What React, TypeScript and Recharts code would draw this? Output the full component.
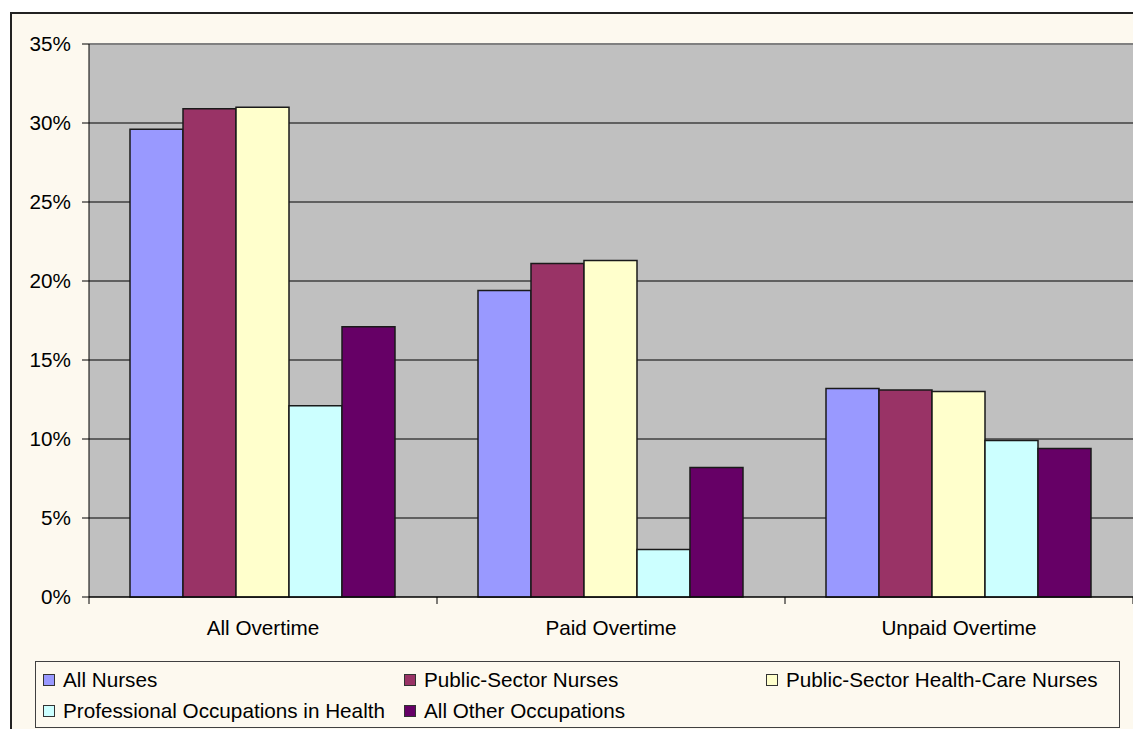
import { BarChart, Bar, XAxis, YAxis, CartesianGrid, ReferenceLine } from "recharts";

const CATEGORIES = ["All Overtime", "Paid Overtime", "Unpaid Overtime"];

// share of workers reporting overtime, %
const ALL_NURSES = [29.6, 19.4, 13.2];
const PUBLIC_SECTOR_NURSES = [30.9, 21.1, 13.1];
const PUBLIC_HEALTH_CARE_NURSES = [31.0, 21.3, 13.0];
const PROFESSIONAL_HEALTH = [12.1, 3.0, 9.9];
const ALL_OTHER = [17.1, 8.2, 9.4];

const Y_TICKS = [0, 5, 10, 15, 20, 25, 30, 35];

const SERIES = [
  { key: "allNurses", name: "All Nurses", color: "#9999FF", values: ALL_NURSES },
  { key: "publicSector", name: "Public-Sector Nurses", color: "#993366", values: PUBLIC_SECTOR_NURSES },
  { key: "publicHealth", name: "Public-Sector Health-Care Nurses", color: "#FFFFCC", values: PUBLIC_HEALTH_CARE_NURSES },
  { key: "professional", name: "Professional Occupations in Health", color: "#CCFFFF", values: PROFESSIONAL_HEALTH },
  { key: "allOther", name: "All Other Occupations", color: "#660066", values: ALL_OTHER },
];

const data = CATEGORIES.map((category, i) => {
  const row: Record<string, string | number> = { category };
  SERIES.forEach((s) => {
    row[s.key] = s.values[i];
  });
  return row;
});

const FONT = "'Liberation Sans', Arial, sans-serif";
const FONT_SIZE = 20.7;
const LABEL_GAP = 23;
const EDGE_TICK = 7;

// category label plus the small tick marks on the band edges
function CategoryTick(props: any) {
  const { x, y, payload, index, visibleTicksCount } = props;
  const half = payload.offset ?? 0;
  const axisY = y - LABEL_GAP;
  const isLast = index === (visibleTicksCount ?? CATEGORIES.length) - 1;
  return (
    <g>
      <line x1={x - half} x2={x - half} y1={axisY} y2={axisY + EDGE_TICK} stroke="#000" />
      {isLast && <line x1={x + half} x2={x + half} y1={axisY} y2={axisY + EDGE_TICK} stroke="#000" />}
      <text x={x} y={y} dy="0.71em" textAnchor="middle" fill="#000" fontSize={FONT_SIZE} fontFamily={FONT}>
        {payload.value}
      </text>
    </g>
  );
}

export default function App() {
  return (
    <div
      style={{
        position: "absolute",
        left: 10,
        top: 12,
        width: 1200,
        height: 800,
        border: "2px solid #222",
        boxSizing: "border-box",
        background: "#FDF9EF",
        fontFamily: FONT,
      }}
    >
      <div style={{ position: "absolute", left: 0, top: 0 }}>
        <BarChart
          width={1121}
          height={640}
          data={data}
          margin={{ top: 30, right: 0, bottom: 0, left: 0 }}
          barCategoryGap={41}
          barGap={0}
        >
          <CartesianGrid vertical={false} fill="#C0C0C0" fillOpacity={1} stroke="#000" strokeWidth={1} />
          <ReferenceLine y={35} stroke="#808080" strokeWidth={2} />
          <XAxis
            dataKey="category"
            height={57}
            axisLine={{ stroke: "#000", strokeWidth: 1 }}
            tickLine={false}
            tickSize={0}
            tickMargin={LABEL_GAP}
            tick={<CategoryTick />}
          />
          <YAxis
            width={77}
            domain={[0, 35]}
            ticks={Y_TICKS}
            tickFormatter={(v: number) => `${v}%`}
            axisLine={{ stroke: "#000", strokeWidth: 1 }}
            tickLine={{ stroke: "#000" }}
            tickSize={7}
            tickMargin={11}
            tick={{ fill: "#000", fontSize: FONT_SIZE, fontFamily: FONT }}
          />
          {SERIES.map((s) => (
            <Bar
              key={s.key}
              dataKey={s.key}
              name={s.name}
              fill={s.color}
              stroke="#1a1a1a"
              strokeWidth={1.5}
              isAnimationActive={false}
            />
          ))}
        </BarChart>
      </div>

      {/* legend */}
      <div
        style={{
          position: "absolute",
          left: 23,
          top: 647,
          width: 1085,
          height: 67,
          border: "1px solid #404040",
          boxSizing: "border-box",
          display: "grid",
          gridTemplateColumns: "361px 362px auto",
          gridAutoRows: "31px",
          paddingLeft: 7,
          paddingTop: 2,
        }}
      >
        {SERIES.map((s) => (
          <div key={s.key} style={{ display: "flex", alignItems: "center", fontSize: FONT_SIZE, color: "#000", whiteSpace: "nowrap" }}>
            <span
              style={{
                display: "inline-block",
                width: 12,
                height: 12,
                background: s.color,
                border: "1px solid #333",
                boxSizing: "border-box",
                marginRight: 8,
              }}
            />
            {s.name}
          </div>
        ))}
      </div>
    </div>
  );
}
